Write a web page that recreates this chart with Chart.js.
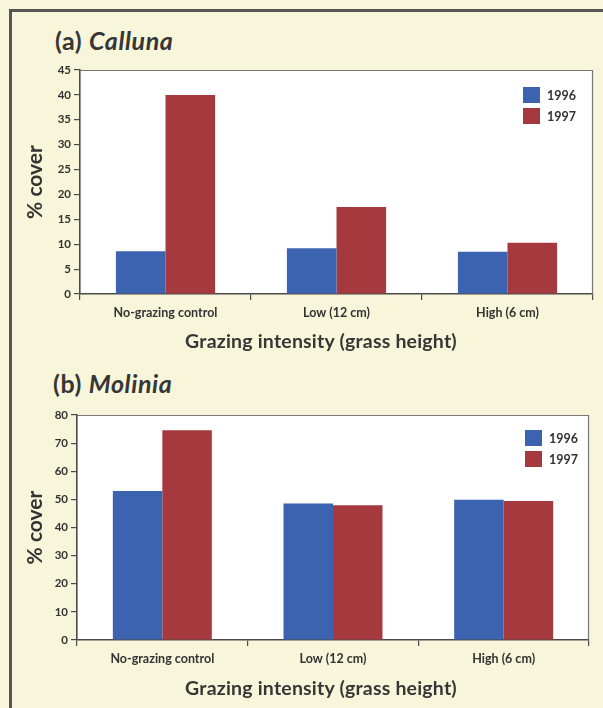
<!DOCTYPE html>
<html>
<head>
<meta charset="utf-8">
<script src="https://cdn.jsdelivr.net/npm/chart.js@4.4.1/dist/chart.umd.min.js"></script>
<style>
  html, body { margin: 0; padding: 0; }
  body {
    width: 603px; height: 708px; position: relative; overflow: hidden;
    background: #f7f5da; font-family: Lato, 'Open Sans', sans-serif; color: #363636;
  }
  .frame {
    position: absolute; left: 9px; top: 9px; width: 620px; height: 720px;
    border-left: 3px solid #555; border-top: 3px solid #555;
  }
  .panel-title { position: absolute; font-weight: bold; font-size: 25px; line-height: 28px; letter-spacing: 0.6px; }
  .panel-title i { font-style: italic; }
  .x-title {
    position: absolute; left: 0; width: 642px; text-align: center;
    font-weight: bold; font-size: 19.5px; line-height: 24px; letter-spacing: 0.2px;
  }
  canvas { position: absolute; left: 0; }
</style>
</head>
<body>
<div class="frame"></div>
<div class="panel-title" style="left:55px; top:26px;">(a) <i>Calluna</i></div>
<div class="panel-title" style="left:53px; top:369px;">(b) <i>Molinia</i></div>
<canvas id="callunaChart" style="top:0px;"></canvas>
<canvas id="moliniaChart" style="top:360px;"></canvas>
<div class="x-title" style="top:329px;">Grazing intensity (grass height)</div>
<div class="x-title" style="top:676px;">Grazing intensity (grass height)</div>
<script>
const categories = ['No-grazing control', 'Low (12 cm)', 'High (6 cm)'];
const years = ['1996', '1997'];

// (a) Calluna, % cover
const calluna1996 = [8.6, 9.2, 8.5];
const calluna1997 = [40, 17.5, 10.3];
const callunaMax = 45;
const callunaStep = 5;

// (b) Molinia, % cover
const molinia1996 = [53, 48.5, 49.9];
const molinia1997 = [74.6, 47.9, 49.4];
const moliniaMax = 80;
const moliniaStep = 10;

const blue = '#3c63af';
const red = '#a5393e';
const textColor = '#333333';
const axisColor = '#4a4a4a';

const plotBox = {
  id: 'plotBox',
  beforeDraw(chart) {
    const { ctx, chartArea: a } = chart;
    ctx.save();
    ctx.fillStyle = '#ffffff';
    ctx.fillRect(a.left, a.top, a.right - a.left, a.bottom - a.top);
    ctx.restore();
  },
  afterDraw(chart) {
    const { ctx, chartArea: a } = chart;
    ctx.save();
    ctx.strokeStyle = '#777';
    ctx.lineWidth = 1.2;
    ctx.beginPath();
    ctx.moveTo(a.left, a.top + 0.5);
    ctx.lineTo(a.right - 0.5, a.top + 0.5);
    ctx.lineTo(a.right - 0.5, a.bottom);
    ctx.stroke();
    ctx.restore();

    // legend in top right corner of the plot
    const opts = chart.options.plugins.plotBox;
    ctx.save();
    ctx.font = 'bold 12.5px Lato, sans-serif';
    ctx.textBaseline = 'middle';
    chart.data.datasets.forEach((ds, i) => {
      const x = a.right - opts.right;
      const y = a.top + opts.top + i * 21;
      ctx.fillStyle = ds.backgroundColor;
      ctx.fillRect(x, y, 17, 16);
      ctx.fillStyle = textColor;
      ctx.fillText(ds.label, x + 24, y + 8.5);
    });
    ctx.restore();
  }
};

function makeChart(id, height, v96, v97, yMax, yStep, pad, yWidth, xHeight, legendPos) {
  const canvas = document.getElementById(id);
  canvas.width = 603;
  canvas.height = height;
  return new Chart(canvas, {
    type: 'bar',
    data: {
      labels: categories,
      datasets: [
        { label: years[0], data: v96, backgroundColor: blue },
        { label: years[1], data: v97, backgroundColor: red }
      ]
    },
    options: {
      responsive: false,
      animation: false,
      layout: { padding: pad },
      categoryPercentage: 0.58,
      barPercentage: 1.0,
      plugins: {
        legend: { display: false },
        tooltip: { enabled: false },
        plotBox: legendPos
      },
      scales: {
        x: {
          grid: { drawOnChartArea: false, drawTicks: true, tickLength: 6, color: axisColor, lineWidth: 1.2 },
          border: { display: true, color: axisColor, width: 1.6 },
          ticks: { color: textColor, font: { family: 'Lato', size: 12.5, weight: 'bold' }, padding: 5, maxRotation: 0 },
          afterFit(scale) { scale.height = xHeight; }
        },
        y: {
          min: 0,
          max: yMax,
          ticks: { stepSize: yStep, color: textColor, font: { family: 'Lato', size: 11.5, weight: 'bold' }, padding: 3 },
          grid: { drawOnChartArea: false, drawTicks: true, tickLength: 6, color: axisColor, lineWidth: 1.2 },
          border: { display: true, color: axisColor, width: 1.6 },
          title: {
            display: true,
            text: '% cover',
            color: textColor,
            font: { family: 'Lato', size: 21, weight: 'bold', lineHeight: 1.2 },
            padding: 0
          },
          afterFit(scale) { scale.width = yWidth; }
        }
      }
    },
    plugins: [plotBox]
  });
}

makeChart('callunaChart', 360, calluna1996, calluna1997, callunaMax, callunaStep,
  { top: 70, left: 23, right: 10, bottom: 7 }, 57, 59, { right: 70, top: 17 });

makeChart('moliniaChart', 348, molinia1996, molinia1997, moliniaMax, moliniaStep,
  { top: 55, left: 23, right: 14, bottom: 8 }, 54, 60, { right: 64, top: 15 });
</script>
</body>
</html>
